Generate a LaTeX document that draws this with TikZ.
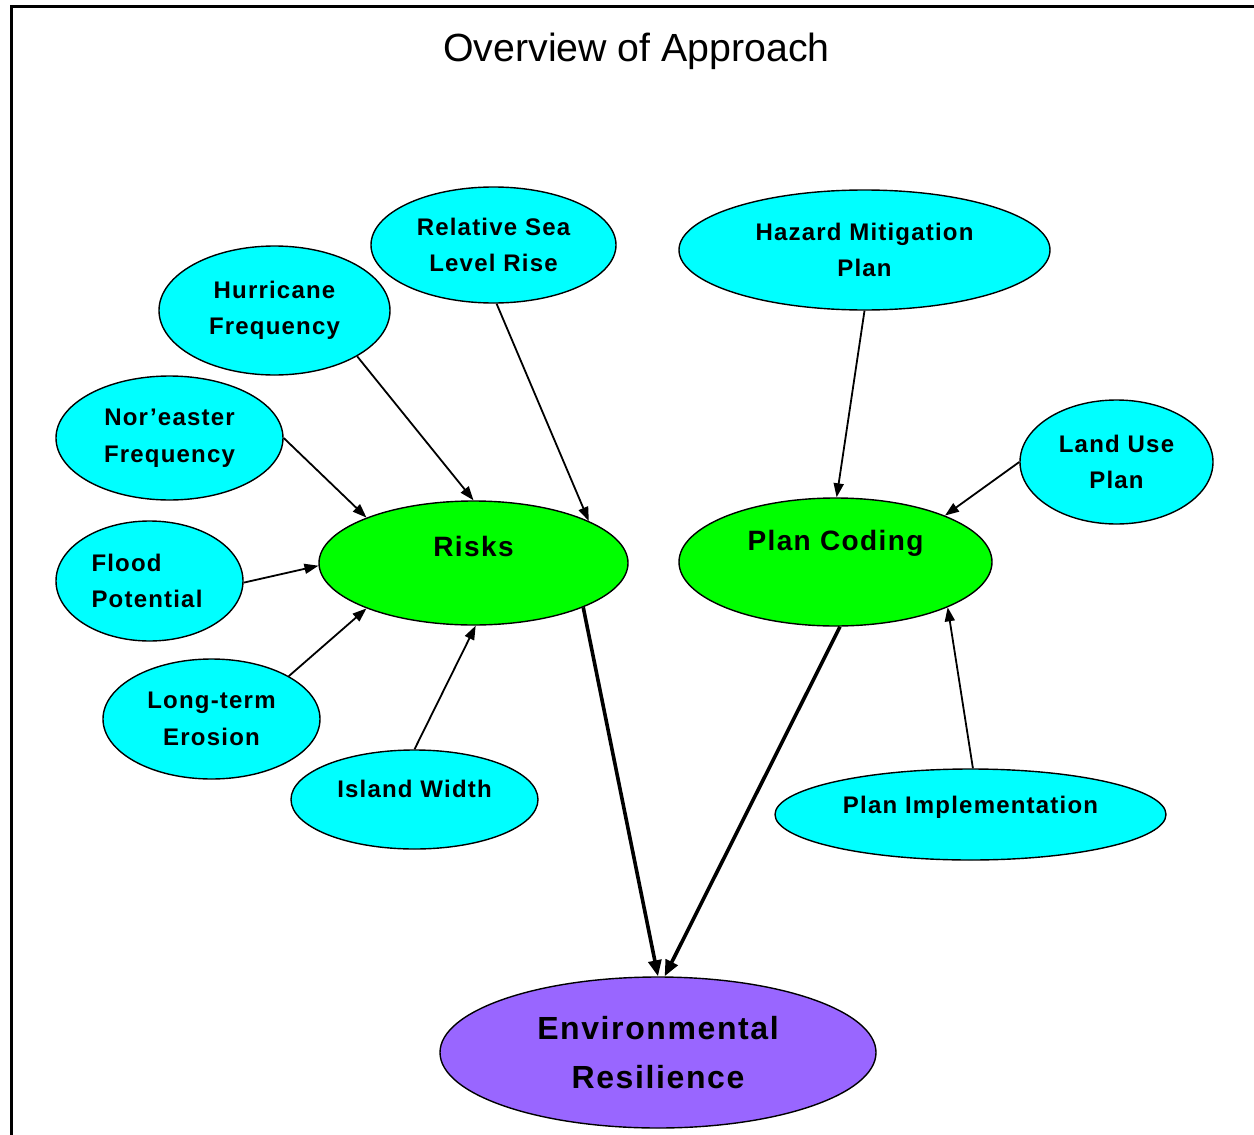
\documentclass[tikz,border=0pt]{standalone}
\usepackage{fontspec}
\setmainfont{Liberation Sans}
\newfontfamily\nodefont[LetterSpace=5]{Liberation Sans}
\usetikzlibrary{shapes.geometric,arrows.meta}

\definecolor{factorfill}{HTML}{00FFFF}
\definecolor{hubfill}{HTML}{00FF00}
\definecolor{goalfill}{HTML}{9966FF}

\tikzset{
  bubble/.style={ellipse, draw=black, line width=1.4pt, inner sep=0pt, align=center,
    font=\nodefont\bfseries\fontsize{24}{36.5}\selectfont},
  factor/.style={bubble, fill=factorfill},
  hub/.style={bubble, fill=hubfill},
  goal/.style={bubble, fill=goalfill},
  hubtext/.style={font=\nodefont\bfseries\fontsize{28}{34}\selectfont, inner sep=0pt},
  smalltext/.style={font=\nodefont\bfseries\fontsize{24}{36.5}\selectfont, inner sep=0pt},
  link/.style={-{Triangle[length=14pt,width=10pt]}, line width=1.8pt},
  mainlink/.style={-{Triangle[length=16pt,width=13pt]}, line width=3.6pt},
}

\begin{document}
\begin{tikzpicture}[x=1pt, y=-1pt]
\useasboundingbox (0,0) rectangle (1254,1135);

% page frame
\draw[line width=2.6pt] (11.5,1135) -- (11.5,6.5) -- (1254,6.5);

% heading
\node (title) at (636.5,51) {\fontsize{39.3}{46}\selectfont Overview of Approach};

% risk factors
\node[factor, minimum width=245pt, minimum height=116pt] (rslr) at (493.5,245) {Relative Sea\\Level Rise};
\node[factor, minimum width=231pt, minimum height=129pt] (hur) at (274.5,310.5) {Hurricane\\Frequency};
\node[factor, minimum width=227pt, minimum height=124pt] (nor) at (169.5,438) {Nor’easter\\Frequency};
\node[factor, minimum width=187pt, minimum height=120pt,
      label={[smalltext, align=left, xshift=-2.5pt]center:Flood\\Potential}] (flood) at (149.5,581) {};
\node[factor, minimum width=217pt, minimum height=120pt] (erosion) at (211.5,719) {Long-term\\Erosion};
\node[factor, minimum width=247pt, minimum height=99pt,
      label={[smalltext, yshift=10.5pt]center:Island Width}] (island) at (414.5,799.5) {};

% planning inputs
\node[factor, minimum width=371pt, minimum height=120pt] (haz) at (864.5,250) {Hazard Mitigation\\Plan};
\node[factor, minimum width=193pt, minimum height=124pt] (land) at (1116.5,462) {Land Use\\Plan};
\node[factor, minimum width=391pt, minimum height=91pt,
      label={[smalltext, yshift=7.5pt]center:Plan Implementation}] (impl) at (970.5,814.5) {};

% hubs
\node[hub, minimum width=309pt, minimum height=124pt,
      label={[hubtext, yshift=17pt]center:Risks}] (risks) at (473.5,563) {};
\node[hub, minimum width=313pt, minimum height=128pt,
      label={[hubtext, yshift=19pt]center:Plan Coding}] (coding) at (835.5,562) {};

% outcome
\node[goal, minimum width=436pt, minimum height=151pt,
      font=\nodefont\bfseries\fontsize{32}{49}\selectfont] (env) at (658,1052.5) {Environmental\\Resilience};

% connectors into Risks
\draw[link] (hur.331) -- (risks.90);
\draw[link] (rslr.273) -- (risks.20.5);
\draw[link] (nor.0) -- (risks.157);
\draw[link] (flood.359) -- (risks.181);
\draw[link] (erosion.29) -- (risks.203);
\draw[link] (island.90) -- (risks.272);

% connectors into Plan Coding
\draw[link] (haz.270) -- (coding.89);
\draw[link] (land.180) -- (coding.23);
\draw[link] (impl.87) -- (coding.338);

% connectors into the outcome
\draw[mainlink] (risks.338.6) -- (env.90);
\draw[mainlink] (coding.274) -- (env.85);
\end{tikzpicture}
\end{document}
